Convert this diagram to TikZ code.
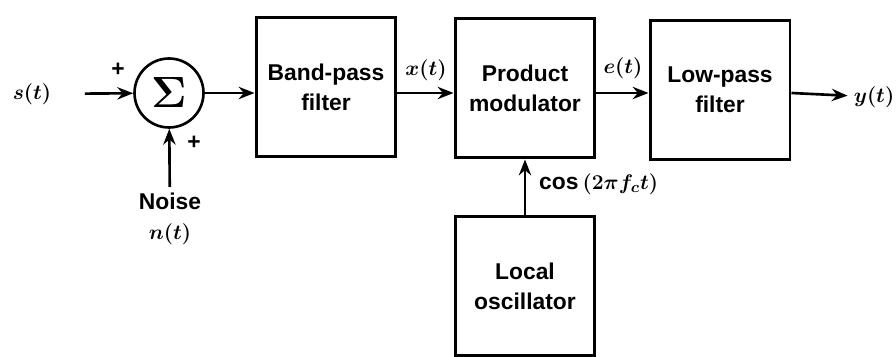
\documentclass[tikz,border=0pt]{standalone}
\usepackage{fontspec}
\setmainfont{Liberation Sans}
\usetikzlibrary{arrows.meta}
\begin{document}
\begin{tikzpicture}[x=.02cm,y=-.02cm,
 every node/.style={font=\fontsize{13}{17}\selectfont\bfseries\boldmath},
 block/.style={draw,line width=1.7pt,minimum width=2.8cm,minimum height=2.8cm,align=center,inner sep=0pt},
 sumnode/.style={draw,circle,line width=1.5pt,minimum size=1.38cm,inner sep=0pt},
 sig/.style={-{Stealth[length=9pt,width=7pt]},line width=1.5pt}]
\useasboundingbox (0,0) rectangle (896,357);
% blocks
\node[sumnode] (sum) at (169,93) {\Huge$\Sigma$};
\foreach \n/\x/\y/\t in {bpf/326/87/{Band-pass\\filter},pm/525/88/{Product\\modulator},
 lpf/720/90/{Low-pass\\filter},lo/525/286/{Local\\oscillator}}
 \node[block] (\n) at (\x,\y) {\t};
% signals
\node (s) at (32,94) {$s(t)$};
\node (y) at (874,97) {$y(t)$};
\node[align=center] (noise) at (170,219) {Noise\\$n(t)$};
\draw[sig,shorten <=.55cm] (s) -- (sum);
\draw[sig] (sum) -- (sum -| bpf.west);
\draw[sig] (bpf.east |- sum) -- (pm.west |- sum);
\draw[sig] (pm.east |- sum) -- (lpf.west |- sum);
\draw[sig] (lpf.east |- sum) -- (y);
\draw[sig] (noise) -- (sum);
\draw[sig] (lo) -- (pm);
% labels
\node (p1) at (118,70) {+};
\node (p2) at (194,143) {+};
\node (x) at (426,70) {$x(t)$};
\node (e) at (623,68) {$e(t)$};
\node[anchor=west] (c) at (533,184) {$\cos\,(2\pi f_c t)$};
\end{tikzpicture}
\end{document}
